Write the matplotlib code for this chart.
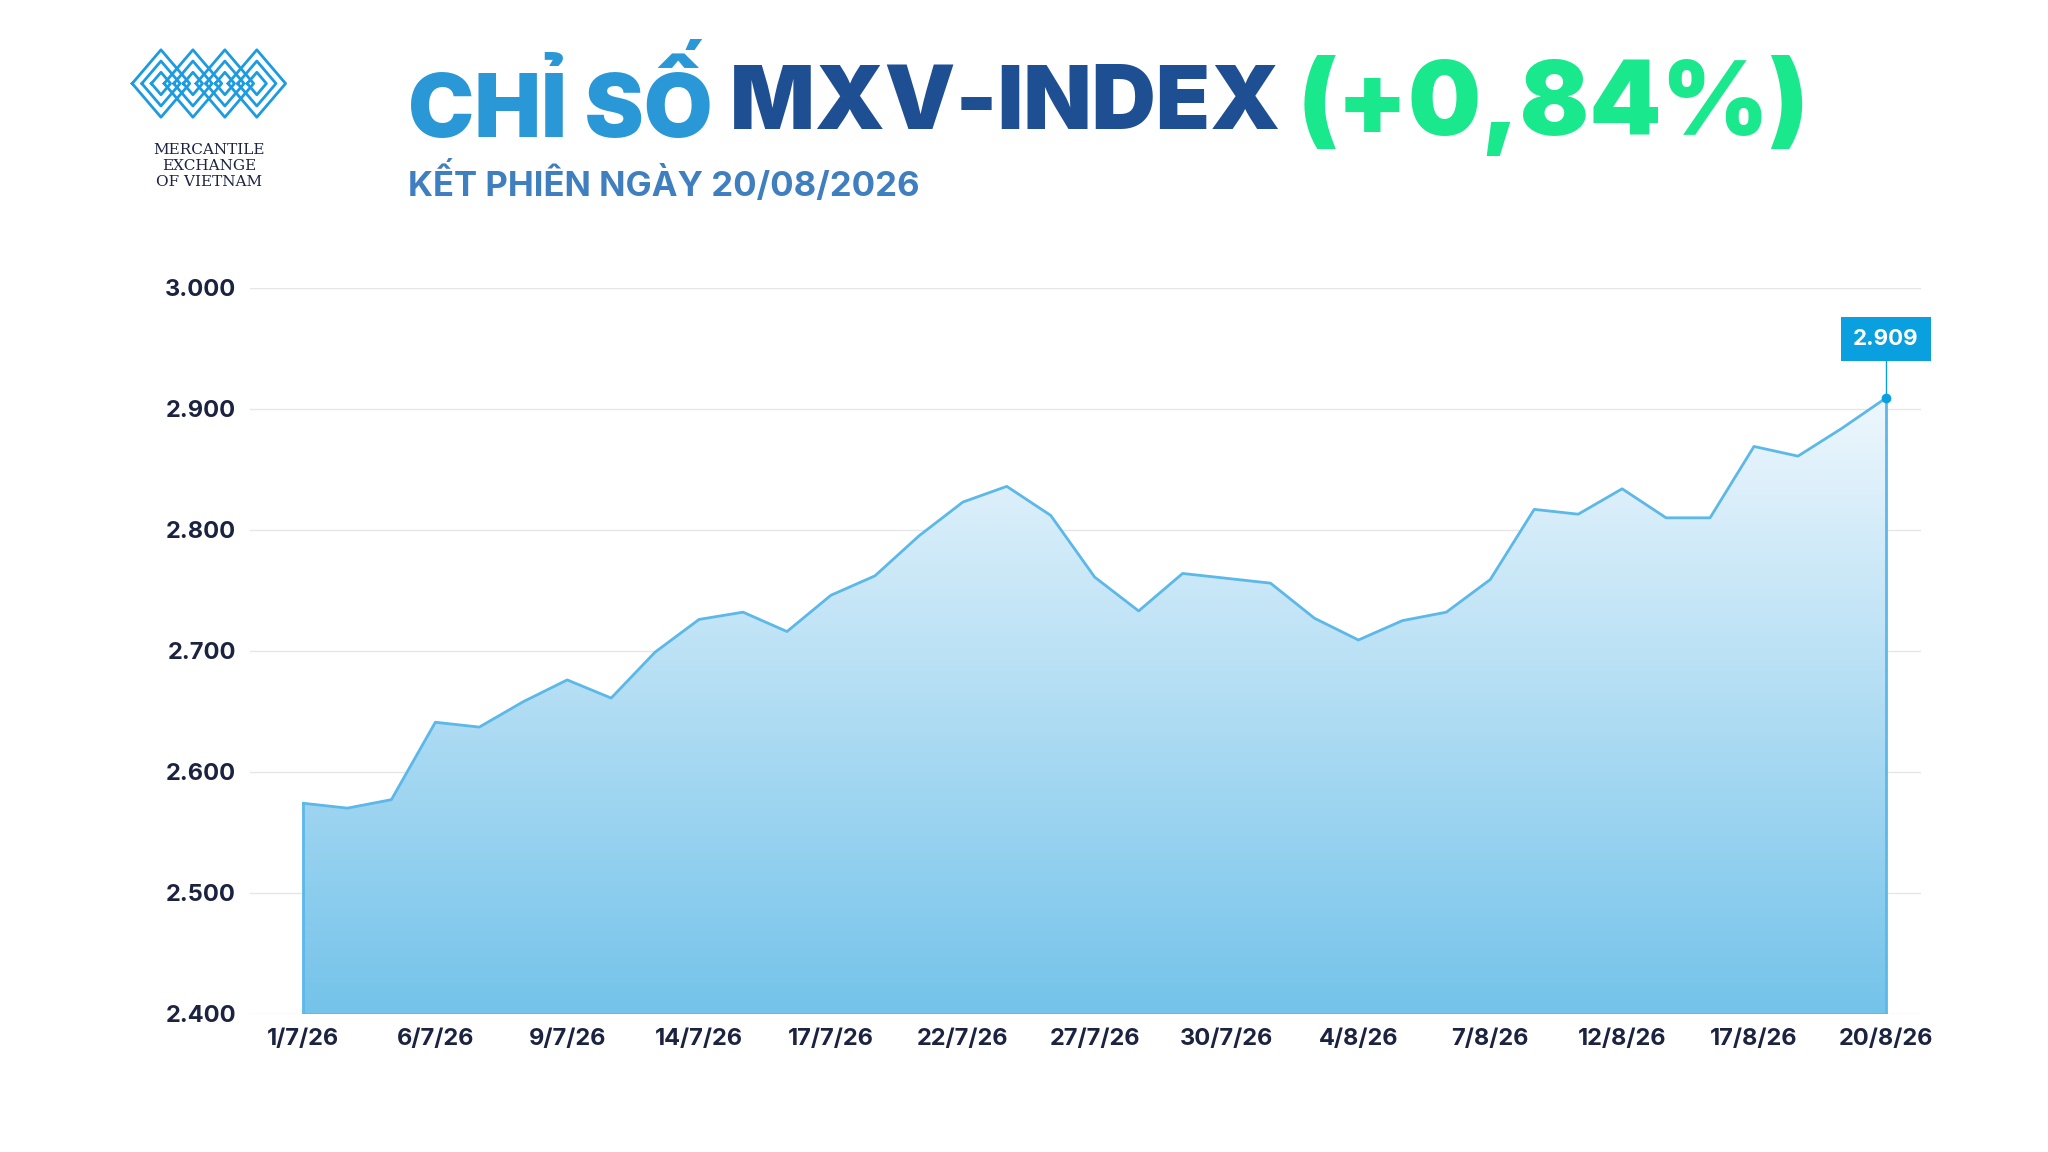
import numpy as np
import matplotlib.pyplot as plt
from matplotlib.patches import Polygon
from matplotlib.colors import LinearSegmentedColormap

plt.rcParams['font.family'] = ['Inter', 'DejaVu Sans']

dates = ["1/7/26", "2/7/26", "3/7/26", "6/7/26", "7/7/26", "8/7/26", "9/7/26", "10/7/26",
         "13/7/26", "14/7/26", "15/7/26", "16/7/26", "17/7/26", "20/7/26", "21/7/26", "22/7/26",
         "23/7/26", "24/7/26", "27/7/26", "28/7/26", "29/7/26", "30/7/26", "31/7/26", "3/8/26",
         "4/8/26", "5/8/26", "6/8/26", "7/8/26", "10/8/26", "11/8/26", "12/8/26", "13/8/26",
         "14/8/26", "17/8/26", "18/8/26", "19/8/26", "20/8/26"]
values = [2574, 2570, 2577, 2641, 2637, 2658, 2676, 2661, 2699, 2726, 2732, 2716, 2746,
          2762, 2795, 2823, 2836, 2812, 2761, 2733, 2764, 2760, 2756, 2727, 2709, 2725,
          2732, 2759, 2817, 2813, 2834, 2810, 2810, 2869, 2861, 2884, 2909]
yticks = [2400, 2500, 2600, 2700, 2800, 2900, 3000]

fig = plt.figure(figsize=(20.48, 11.52), dpi=100)
ax = fig.add_axes([0.122, 0.12, 0.816, 0.63])
x = np.arange(len(values))
ax.set_xlim(-1.22, 36.8)
ax.set_ylim(2400, 3000)

# gradient fill under the line
cmap = LinearSegmentedColormap.from_list("g", ["#74c3ea", "#eef7fd"])
grad = np.linspace(0, 1, 256).reshape(-1, 1)
im = ax.imshow(grad, cmap=cmap, aspect='auto', extent=[0, 36, 2400, 2909],
               origin='lower', zorder=1)
poly = Polygon(list(zip(x, values)) + [(36, 2400), (0, 2400)], closed=True,
               facecolor='none', edgecolor='none')
ax.add_patch(poly)
im.set_clip_path(poly)
ax.plot(x, values, color='#5bb8e8', lw=2, zorder=3)
ax.plot([0, 0], [2400, values[0]], color='#5bb8e8', lw=2, zorder=3)
ax.plot([36, 36], [2400, values[-1]], color='#5bb8e8', lw=2, zorder=3)
ax.plot([0, 36], [2400, 2400], color='#5bb8e8', lw=2, zorder=3)
ax.plot(36, values[-1], 'o', color='#0aa0e0', ms=6, zorder=4)
ax.plot([36, 36], [values[-1], 2945], color='#0aa0e0', lw=1, zorder=4)
ax.text(36, 2958, f"{values[-1]:,}".replace(",", "."), ha='center', va='center',
        color='white', fontsize=16, fontweight='bold', zorder=5,
        bbox=dict(boxstyle='square,pad=0.55', fc='#0aa0e0', ec='none'))

ax.set_yticks(yticks)
ax.set_yticklabels([f"{v:,}".replace(",", ".") for v in yticks])
ax.set_xticks(x[::3])
ax.set_xticklabels(dates[::3])
ax.grid(axis='y', color='#e6e6e6', lw=1)
ax.set_axisbelow(True)
for s in ax.spines.values():
    s.set_visible(False)
ax.tick_params(length=0, labelsize=17, labelcolor='#1b2340', pad=10)
for lab in ax.get_xticklabels() + ax.get_yticklabels():
    lab.set_fontweight('bold')

# title, pieces placed one after another
renderer = fig.canvas.get_renderer()
xpos = 0.199
for txt, size, col in [("CHỈ SỐ ", 64, '#2a98d6'), ("MXV-INDEX ", 64, '#1f4f93'),
                       ("(+0,84%)", 74, '#19e88c')]:
    t = fig.text(xpos, 0.908, txt, fontsize=size, fontweight='black', color=col, va='center')
    bb = t.get_window_extent(renderer)
    xpos += bb.width / fig.bbox.width
fig.text(0.199, 0.842, "KẾT PHIÊN NGÀY 20/08/2026", fontsize=25, fontweight='bold',
         color='#3f7fc0', va='center')

# logo
lx = fig.add_axes([0.063, 0.895, 0.078, 0.065])
lx.set_xlim(0, 10); lx.set_ylim(0, 4); lx.axis('off')
for cx in [2, 4, 6, 8]:
    for r in [1.8, 1.2, 0.6]:
        lx.plot([cx - r, cx, cx + r, cx, cx - r], [2, 2 + r, 2, 2 - r, 2],
                color='#1d9be0', lw=2)
fig.text(0.102, 0.876, "MERCANTILE\nEXCHANGE\nOF VIETNAM", ha='center', va='top',
         fontsize=11, family='DejaVu Serif', color='#1b2340', linespacing=1.2)

fig.savefig("out.png", dpi=100, facecolor='white')
